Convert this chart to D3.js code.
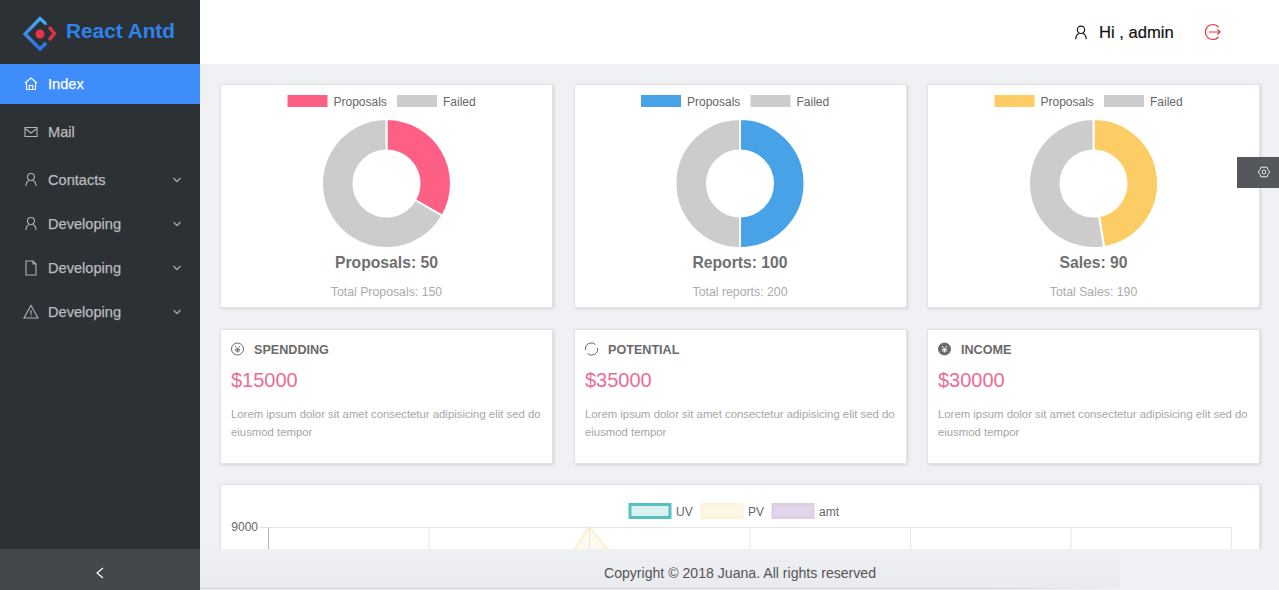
<!DOCTYPE html>
<html>
<head>
<meta charset="utf-8">
<title>React Antd</title>
<script src="https://cdn.jsdelivr.net/npm/d3@7"></script>
<style>
html, body { margin: 0; padding: 0; background: #eff1f5; overflow: hidden; }
svg { display: block; }
text { font-family: "Liberation Sans", Arial, sans-serif; }
</style>
</head>
<body>
<div id="app"></div>
<script>
// –––––––––––––––––– DATA ––––––––––––––––––
var menuLabels = ["Index", "Mail", "Contacts", "Developing", "Developing", "Developing"];
var menuIcons = ["home", "mail", "user", "user", "file", "warn"];
var menuArrows = [false, false, true, true, true, true];

var donutTitles = ["Proposals: 50", "Reports: 100", "Sales: 90"];
var donutTotals = ["Total Proposals: 150", "Total reports: 200", "Total Sales: 190"];
var donutLabels = ["Proposals", "Failed"];
var donutColors = ["#fe5f84", "#47a2e8", "#fccd65"];
var donutDone = [50, 100, 90];
var donutFailed = [100, 100, 100];

var metricTitles = ["SPENDDING", "POTENTIAL", "INCOME"];
var metricValues = ["$15000", "$35000", "$30000"];
var metricIcons = ["coin", "sync", "coinFill"];
var lorem = ["Lorem ipsum dolor sit amet consectetur adipisicing elit sed do", "eiusmod tempor"];

var lineLabels = ["UV", "PV", "amt"];
var lineStrokes = ["#55c1c1", "#fdf3da", "#ddd0e5"];
var lineFills = ["#d9f1f1", "#fff7e6", "#e2d7ea"];
var lineCategories = [0, 1, 2, 3, 4, 5, 6];
var pvCategories = [1, 2, 3];   // only these PV points show above the footer
var pvValues = [1000, 9000, 2900];
var yTicks = [9000];

// –––––––––––––––––– SVG SETUP ––––––––––––––––––
var svgWidth = 1279;
var svgHeight = 590;
var svg = d3.select("#app").append("svg")
	.attr("width", svgWidth)
	.attr("height", svgHeight);

var defs = svg.append("defs");
var shadow = defs.append("filter").attr("id", "cardShadow")
	.attr("x", "-5%").attr("y", "-5%").attr("width", "110%").attr("height", "110%");
shadow.append("feDropShadow")
	.attr("dx", 1).attr("dy", 1).attr("stdDeviation", 1.5)
	.attr("flood-color", "#000").attr("flood-opacity", 0.12);

var logoGrad = defs.append("linearGradient").attr("id", "logoBlue")
	.attr("x1", 0).attr("y1", 0).attr("x2", 0).attr("y2", 1);
logoGrad.append("stop").attr("offset", "0%").attr("stop-color", "#4aa8f5");
logoGrad.append("stop").attr("offset", "100%").attr("stop-color", "#2f6fe0");

var footGrad = defs.append("linearGradient").attr("id", "footBg")
	.attr("x1", 0).attr("y1", 0).attr("x2", 0).attr("y2", 1);
footGrad.append("stop").attr("offset", "0%").attr("stop-color", "#eef0f4");
footGrad.append("stop").attr("offset", "100%").attr("stop-color", "#e9ebee");

var lineGrad = defs.append("linearGradient").attr("id", "footLine");
lineGrad.append("stop").attr("offset", "0%").attr("stop-color", "#cfd1d4");
lineGrad.append("stop").attr("offset", "85%").attr("stop-color", "#cfd1d4");
lineGrad.append("stop").attr("offset", "100%").attr("stop-color", "#eff1f5");

// page background and top bar
svg.append("rect").attr("width", svgWidth).attr("height", svgHeight).attr("fill", "#eff1f5");
svg.append("rect").attr("x", 200).attr("width", svgWidth - 200).attr("height", 64).attr("fill", "#fff");

// icons are drawn in a box around 0,0
var iconPaths = {
	home: "M-6,-1 L0,-6 L6,-1 M-4.5,-2 V5.5 H4.5 V-2 M-1.8,5.5 V1.5 H1.8 V5.5",
	mail: "M-6,-4.5 H6 V4.5 H-6 Z M-6,-3.5 L0,1 L6,-3.5",
	user: "M-3.5,-3 A3.5,3.5 0 1 1 3.5,-3 A3.5,3.5 0 1 1 -3.5,-3 M-5,6 C-5,2 -3,1 -2,0.5 M5,6 C5,2 3,1 2,0.5",
	file: "M-5,-7 H2 L5,-4 V7 H-5 Z M2,-7 V-4 H5",
	warn: "M0,-6.5 L7,6 H-7 Z M0,-2 V2.5 M0,3.6 V4.6"
};
function drawIcon(g, name, x, y, color, k) {
	return g.append("path")
		.attr("d", iconPaths[name])
		.attr("transform", `translate(${x},${y}) scale(${k || 1})`)
		.attr("fill", "none")
		.attr("stroke", color)
		.attr("stroke-width", 1.1);
}

// –––––––––––––––––– SIDEBAR ––––––––––––––––––
var side = svg.append("g");
side.append("rect").attr("width", 200).attr("height", svgHeight).attr("fill", "#2c3136");

// logo
side.append("path")
	.attr("d", "M46,24 L40,18.5 L25,34 L40,49 L46,43")
	.attr("fill", "none").attr("stroke", "url(#logoBlue)").attr("stroke-width", 3.4);
side.append("path")
	.attr("d", "M40,18.5 L47,25")
	.attr("stroke", "#4aa8f5").attr("stroke-width", 1);
side.append("path")
	.attr("d", "M49,27 L54.5,33.5 L49,40")
	.attr("fill", "none").attr("stroke", "#e5334b").attr("stroke-width", 3.2);
side.append("circle").attr("cx", 40).attr("cy", 34).attr("r", 4.5).attr("fill", "#e5334b");
side.append("text").attr("x", 66).attr("y", 38)
	.attr("font-size", 20.8).attr("font-weight", "bold").attr("fill", "#2f82ea")
	.text("React Antd");

// active row
side.append("rect").attr("y", 64).attr("width", 200).attr("height", 40).attr("fill", "#3f8cfb");

var menuY = [84, 132, 180, 224, 268, 312];
var menuRows = side.selectAll("g.menu")
	.data(menuLabels)
	.enter().append("g")
	.attr("class", "menu")
	.attr("transform", (d, i) => `translate(0,${menuY[i]})`);
menuRows.append("text")
	.attr("x", 48).attr("y", 5)
	.attr("font-size", 14.6)
	.attr("fill", (d, i) => i == 0 ? "#fff" : "#b9bbbd")
	.attr("stroke", (d, i) => i == 0 ? "#fff" : "#b9bbbd")
	.attr("stroke-width", 0.25)
	.text(d => d);
menuRows.each(function(d, i) {
	var row = d3.select(this);
	drawIcon(row, menuIcons[i], 31, 0, i == 0 ? "#fff" : "#b0b2b4");
	if (menuArrows[i]) {
		row.append("path")
			.attr("d", "M173.5,-2 L177,1.5 L180.5,-2")
			.attr("fill", "none").attr("stroke", "#a0a3a6").attr("stroke-width", 1.4);
	}
});

// collapse button
side.append("rect").attr("y", 549).attr("width", 200).attr("height", 41).attr("fill", "#44484c");
side.append("path")
	.attr("d", "M103,568 L97,573 L103,578")
	.attr("fill", "none").attr("stroke", "#fff").attr("stroke-width", 1.2);

// –––––––––––––––––– HEADER ––––––––––––––––––
drawIcon(svg, "user", 1081, 33, "#111", 1.05);
svg.append("text").attr("x", 1099).attr("y", 38)
	.attr("font-size", 16.6).attr("fill", "#111")
	.attr("stroke", "#111").attr("stroke-width", 0.2)
	.text("Hi , admin");
svg.append("path")
	.attr("d", "M1218.5,27 A7.5,7.5 0 1 0 1218.5,37 M1209,32 H1220 M1217.5,29.5 L1220,32 L1217.5,34.5")
	.attr("fill", "none").attr("stroke", "#e8323c").attr("stroke-width", 1.2);

// –––––––––––––––––– CARDS ––––––––––––––––––
var cardX = d3.scaleBand().domain([0, 1, 2]).range([220.5, 1260.5]).paddingInner(0.058);

function addCard(g, x, y, w, h) {
	g.append("rect")
		.attr("x", x).attr("y", y).attr("width", w).attr("height", h)
		.attr("fill", "#fff").attr("stroke", "#e2e3e6")
		.attr("filter", "url(#cardShadow)");
}

// donut cards
var pie = d3.pie().sort(null);
var arc = d3.arc().innerRadius(33).outerRadius(64.5);

donutTitles.forEach((title, c) => {
	var x0 = Math.floor(cardX(c)) + 0.5;
	var w = 332;
	var cx = cardX(c) + cardX.bandwidth() / 2 - 0.5;
	var g = svg.append("g");
	addCard(g, x0, 84.5, w, 223);

	// legend
	[0, 1].forEach(k => {
		var bx = cx - 99 + k * 109.5;
		g.append("rect").attr("x", bx).attr("y", 95).attr("width", 40).attr("height", 12)
			.attr("fill", k == 0 ? donutColors[c] : "#cccccc");
		g.append("text").attr("x", bx + 46).attr("y", 105.5)
			.attr("font-size", 12).attr("fill", "#666")
			.text(donutLabels[k]);
	});

	g.append("g")
		.attr("transform", `translate(${cx},183.5)`)
		.selectAll("path")
		.data(pie([donutDone[c], donutFailed[c]]))
		.enter().append("path")
		.attr("d", arc)
		.attr("fill", (d, i) => i == 0 ? donutColors[c] : "#cccccc")
		.attr("stroke", "#fff")
		.attr("stroke-width", 2);

	g.append("text").attr("x", cx).attr("y", 268)
		.attr("text-anchor", "middle")
		.attr("font-size", 15.7).attr("font-weight", "bold").attr("fill", "#707070")
		.text(title);
	g.append("text").attr("x", cx).attr("y", 296)
		.attr("text-anchor", "middle")
		.attr("font-size", 12.3).attr("fill", "#ababab")
		.text(donutTotals[c]);
});

// metric cards
metricTitles.forEach((title, c) => {
	var x0 = Math.floor(cardX(c)) + 0.5;
	var w = 332;
	var g = svg.append("g");
	addCard(g, x0, 329.5, w, 134);

	var ix = x0 + 17;
	var icon = metricIcons[c];
	if (icon == "coin" || icon == "coinFill") {
		g.append("circle").attr("cx", ix).attr("cy", 349).attr("r", 6)
			.attr("fill", icon == "coinFill" ? "#6a6a6a" : "none")
			.attr("stroke", "#6a6a6a").attr("stroke-width", 1);
		g.append("path")
			.attr("d", `M${ix - 2.5},346 L${ix},349 L${ix + 2.5},346 M${ix},349 V352.5 M${ix - 2.5},349.5 H${ix + 2.5} M${ix - 2.5},351 H${ix + 2.5}`)
			.attr("fill", "none")
			.attr("stroke", icon == "coinFill" ? "#fff" : "#6a6a6a").attr("stroke-width", 0.9);
	} else {
		g.append("path")
			.attr("d", `M${ix - 6},350 A6,6 0 0 1 ${ix + 4},344.5 M${ix + 6},348 A6,6 0 0 1 ${ix - 4},353.5`)
			.attr("fill", "none").attr("stroke", "#6a6a6a").attr("stroke-width", 1);
	}

	g.append("text").attr("x", x0 + 33.5).attr("y", 354)
		.attr("font-size", 12.6).attr("font-weight", "bold").attr("fill", "#6a6a6a")
		.text(title);
	g.append("text").attr("x", x0 + 10.5).attr("y", 387)
		.attr("font-size", 20).attr("fill", "#ea6d95")
		.text(metricValues[c]);
	g.selectAll("text.lorem")
		.data(lorem)
		.enter().append("text")
		.attr("class", "lorem")
		.attr("x", x0 + 10.5)
		.attr("y", (d, i) => 418 + i * 18)
		.attr("font-size", 11.35).attr("fill", "#a6a6a6")
		.text(d => d);
});

// –––––––––––––––––– LINE CHART ––––––––––––––––––
var chartCard = svg.append("g");
addCard(chartCard, 220.5, 484.5, 1039, 120);

var legendX = [630, 702, 773];
lineLabels.forEach((label, i) => {
	chartCard.append("rect")
		.attr("x", legendX[i]).attr("y", 504.5).attr("width", 40).attr("height", 13)
		.attr("fill", lineFills[i])
		.attr("stroke", lineStrokes[i])
		.attr("stroke-width", 3);
	chartCard.append("text")
		.attr("x", legendX[i] + 46).attr("y", 515.5)
		.attr("font-size", 12).attr("fill", "#666")
		.text(label);
});

var plotLeft = 268;
var plotRight = 1231;
var plotTop = 527;
var plotBottom = 807;

var xLinearScale = d3.scalePoint().domain(lineCategories).range([plotLeft, plotRight]);
var yLinearScale = d3.scaleLinear().domain([0, 9000]).range([plotBottom, plotTop]);

// PV area goes under the grid, the middle grid line shows through it
var pvPoints = pvCategories.map((c, i) => [c, pvValues[i]]);
chartCard.append("path")
	.datum(pvPoints)
	.attr("d", d3.area()
		.x(d => xLinearScale(d[0]))
		.y0(plotBottom)
		.y1(d => yLinearScale(d[1])))
	.attr("fill", "#fffaf0")
	.attr("stroke", "none");
chartCard.append("path")
	.datum(pvPoints)
	.attr("d", d3.line()
		.x(d => xLinearScale(d[0]))
		.y(d => yLinearScale(d[1])))
	.attr("fill", "none")
	.attr("stroke", "#fdf1d3")
	.attr("stroke-width", 2.5);

// vertical grid
var bottomAxis = d3.axisBottom(xLinearScale)
	.tickSize(-(plotBottom - plotTop))
	.tickFormat("");
var xGrid = chartCard.append("g")
	.attr("transform", `translate(0,${plotBottom})`)
	.call(bottomAxis);
xGrid.select(".domain").remove();
xGrid.selectAll("line").attr("stroke", "#e6e6e6");

// horizontal grid
var gridAxis = d3.axisLeft(yLinearScale)
	.tickValues(yTicks)
	.tickSize(-(plotRight - plotLeft))
	.tickFormat("");
var yGrid = chartCard.append("g")
	.attr("transform", `translate(${plotLeft},0)`)
	.call(gridAxis);
yGrid.selectAll("line").attr("stroke", "#e6e6e6");
yGrid.select(".domain").remove();

// y axis line, short tick and label
var leftAxis = d3.axisLeft(yLinearScale)
	.tickValues(yTicks)
	.tickSize(8)
	.tickSizeOuter(0)
	.tickPadding(2)
	.tickFormat(d3.format("d"));
var yAxis = chartCard.append("g")
	.attr("transform", `translate(${plotLeft},0)`)
	.call(leftAxis);
yAxis.selectAll("line").attr("stroke", "#e0e0e0");
yAxis.select(".domain").attr("stroke", "#b5b5b5");
yAxis.selectAll("text")
	.attr("font-size", 12)
	.attr("font-family", "Liberation Sans")
	.attr("fill", "#666");

// –––––––––––––––––– FOOTER ––––––––––––––––––
svg.append("rect").attr("x", 200).attr("y", 549).attr("width", svgWidth - 200).attr("height", 41)
	.attr("fill", "#eff1f5");
svg.append("rect").attr("x", 200).attr("y", 549).attr("width", 920).attr("height", 39)
	.attr("fill", "url(#footBg)");
svg.append("rect").attr("x", 200).attr("y", 588).attr("width", 920).attr("height", 1)
	.attr("fill", "url(#footLine)");
svg.append("text").attr("x", 740).attr("y", 578)
	.attr("text-anchor", "middle")
	.attr("font-size", 14.1).attr("fill", "#555")
	.text("Copyright © 2018 Juana. All rights reserved");

// –––––––––––––––––– SETTINGS TAB ––––––––––––––––––
svg.append("rect").attr("x", 1237).attr("y", 157).attr("width", 42).attr("height", 31).attr("fill", "#54585c");
svg.append("circle").attr("cx", 1264).attr("cy", 172).attr("r", 2)
	.attr("fill", "none").attr("stroke", "#e8e8e8");
svg.append("path")
	.attr("d", d3.lineRadial().curve(d3.curveLinearClosed)(d3.range(12).map(i => [i * Math.PI / 6, i % 2 ? 5.8 : 4.6])))
	.attr("transform", "translate(1264,172)")
	.attr("fill", "none").attr("stroke", "#e8e8e8");
</script>
</body>
</html>
